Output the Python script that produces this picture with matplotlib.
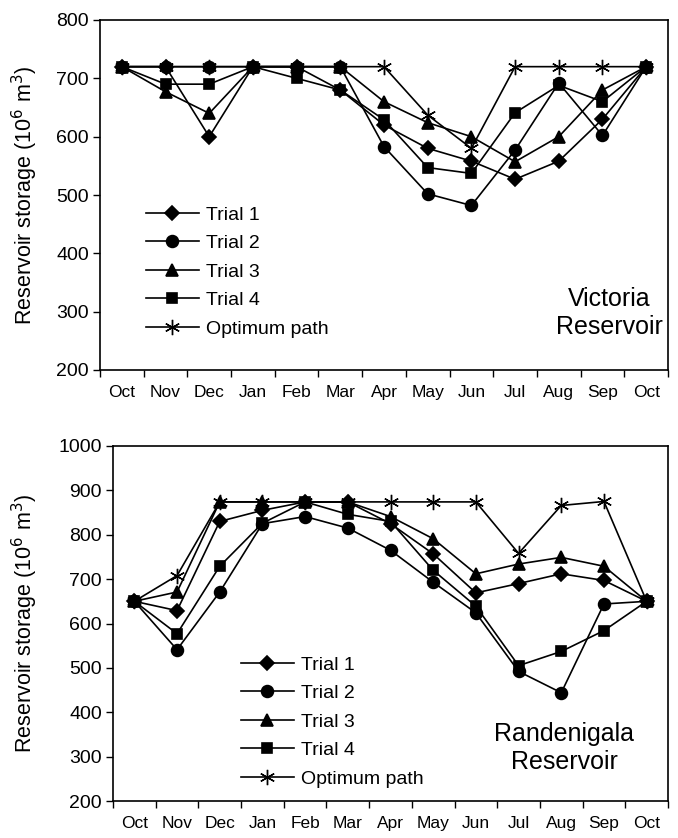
import matplotlib
matplotlib.use('Agg')
import matplotlib.pyplot as plt
import numpy as np

plt.rcParams['font.family'] = ['Liberation Sans', 'DejaVu Sans']

months = ['Oct', 'Nov', 'Dec', 'Jan', 'Feb', 'Mar', 'Apr', 'May', 'Jun', 'Jul', 'Aug', 'Sep', 'Oct']
labels = ['Trial 1', 'Trial 2', 'Trial 3', 'Trial 4', 'Optimum path']

# Victoria reservoir storage (10^6 m3)
vic_trial1 = [720, 720, 600, 720, 720, 680, 620, 580, 558, 527, 558, 630, 720]
vic_trial2 = [720, 720, 720, 720, 720, 720, 583, 502, 482, 577, 692, 602, 720]
vic_trial3 = [720, 677, 640, 720, 720, 720, 660, 624, 600, 557, 600, 680, 720]
vic_trial4 = [720, 690, 690, 720, 700, 680, 629, 547, 537, 641, 688, 660, 720]
vic_opt = [720, 720, 720, 720, 720, 720, 720, 637, 580, 720, 720, 720, 720]

# Randenigala reservoir storage (10^6 m3)
ran_trial1 = [650, 629, 830, 855, 874, 874, 825, 757, 669, 690, 712, 697, 650]
ran_trial2 = [650, 541, 671, 825, 841, 815, 765, 693, 624, 492, 444, 644, 650]
ran_trial3 = [650, 671, 874, 874, 874, 874, 841, 791, 712, 734, 749, 729, 650]
ran_trial4 = [650, 577, 729, 826, 874, 846, 830, 720, 639, 505, 537, 584, 650]
ran_opt = [650, 708, 874, 874, 874, 874, 874, 874, 874, 758, 866, 875, 650]

markers = ['D', 'o', '^', 's', (6, 2, 0)]
msizes = [7.5, 8.5, 8.5, 7, 11]
mews = [1.2, 1.2, 1.2, 1.2, 1.0]

W, H = 678, 838


def draw_panel(ax, series, ylim, legend_xy, title, title_xy, ylabel_y):
    x = np.arange(len(months))
    for i, y in enumerate(series):
        ax.plot(x, y, color='black', lw=1.2, marker=markers[i], ms=msizes[i],
                mec='black', mfc='black', mew=mews[i], label=labels[i])
    ax.set_xlim(-0.5, len(months) - 0.5)
    ax.set_ylim(*ylim)
    ax.set_yticks(np.arange(ylim[0], ylim[1] + 1, 100))
    ax.set_xticks(np.arange(-0.5, len(months), 1))
    ax.set_xticklabels([])
    ax.set_xticks(x, minor=True)
    ax.set_xticklabels(months, minor=True, fontsize=12.5)
    ax.tick_params(axis='x', which='minor', length=0, pad=11)
    ax.tick_params(axis='x', which='major', length=5, width=1)
    ax.tick_params(axis='y', labelsize=14, length=5, width=1, pad=3)
    for s in ax.spines.values():
        s.set_linewidth(1.2)
    fig.text(25 / W, 1 - ylabel_y / H, 'Reservoir storage (10$^6$ m$^3$)', rotation=90,
             ha='center', va='center', fontsize=15.5)
    ax.legend(loc='upper left', bbox_to_anchor=legend_xy, bbox_transform=fig.transFigure,
              frameon=False, fontsize=14, numpoints=1, handlelength=2.7,
              handletextpad=0.4, labelspacing=0.56, borderpad=0, borderaxespad=0)
    ax.text(title_xy[0], title_xy[1], title, transform=fig.transFigure,
            ha='center', va='center', fontsize=18, linespacing=1.2)


fig = plt.figure(figsize=(W / 100, H / 100), dpi=100)
ax1 = fig.add_axes([100 / W, 1 - 370 / H, 568 / W, 350 / H])
ax2 = fig.add_axes([113 / W, 1 - 801 / H, 555 / W, 355 / H])

draw_panel(ax1, [vic_trial1, vic_trial2, vic_trial3, vic_trial4, vic_opt], (200, 800),
           (146 / W, 1 - 206 / H), 'Victoria\nReservoir', (609 / W, 1 - 313 / H), 195)
draw_panel(ax2, [ran_trial1, ran_trial2, ran_trial3, ran_trial4, ran_opt], (200, 1000),
           (241 / W, 1 - 656 / H), 'Randenigala\nReservoir', (564 / W, 1 - 748 / H), 623)

fig.savefig('out.png', dpi=100)
